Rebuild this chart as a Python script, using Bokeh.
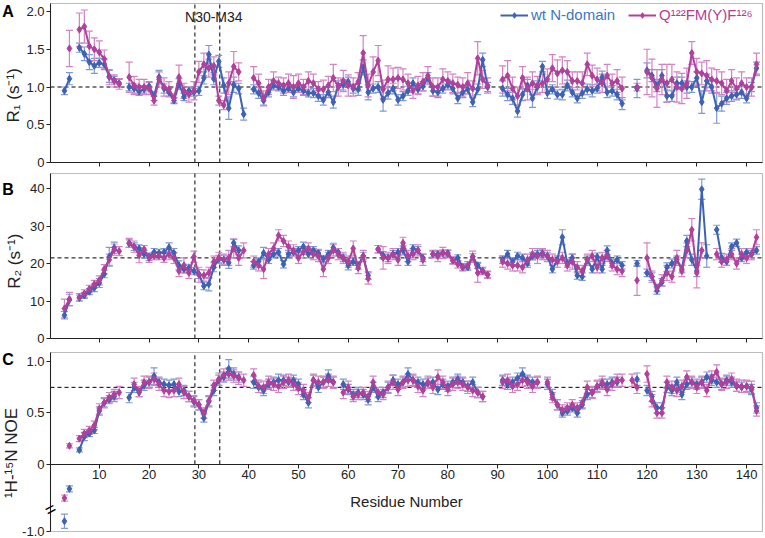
import math
from bokeh.plotting import figure
from bokeh.models import (ColumnDataSource, Range1d, Whisker, TeeHead, Label, BoxAnnotation,
                          Legend, LegendItem, FixedTicker, CustomJSTickFormatter)
from bokeh.layouts import column
from bokeh.embed import file_html
from bokeh.resources import INLINE

# ---------------- data (residues 3..142) ----------------
RESIDUES = list(range(3, 143))
X_TICKS = [10, 20, 30, 40, 50, 60, 70, 80, 90, 100, 110, 120, 130, 140]
REGION = [29.2, 34.2]          # N30-M34 boundaries
R1_MEAN, R2_MEAN, NOE_MEAN = 1.0, 21.5, 0.75

R1_wt = [
    0.95, 1.11, None, 1.52, 1.44, 1.33, 1.28, 1.32, 1.30, 1.14,
    1.09, 1.05, None, 1.00, 0.98, 0.94, 0.97, 1.01, 0.88, 1.13,
    0.98, 0.93, 0.82, 1.04, 0.87, 0.95, 0.93, 0.95, 1.12, 1.43,
    1.11, 1.34, 1.02, 0.72, 1.03, 0.98, 0.64, None, 0.97, 0.92,
    0.82, 0.93, 1.02, 1.00, 0.95, 0.98, 0.93, 0.98, 0.95, 0.92,
    0.92, 0.88, 0.83, 0.93, 0.80, 1.02, 1.03, 1.07, 0.98, 0.97,
    1.26, 0.93, 0.98, 1.00, 0.83, 0.92, 0.98, 0.83, 0.88, 0.95,
    1.05, 0.97, 1.01, 1.12, 0.95, 0.93, 0.98, 1.03, 0.98, 0.85,
    0.93, 0.97, 0.80, 0.97, 1.36, 1.00, None, None, 0.98, 0.90,
    0.85, 0.68, 0.90, 1.02, 0.85, 1.00, 1.27, 0.92, 0.97, 0.90,
    0.90, 1.02, 0.93, 0.85, 0.92, 0.97, 0.95, 0.98, 1.13, 0.93,
    0.95, 0.90, 0.78, None, None, 0.98, None, 1.22, 1.15, 1.02,
    1.15, 0.88, 0.88, 1.05, 1.05, 1.00, 1.00, 1.12, 0.80, 1.08,
    1.00, 0.72, 0.78, 0.85, 0.88, 0.90, 0.93, 0.85, 1.00, 1.25,
]
R1_wt_err = [
    0.05, 0.08, None, 0.06, 0.09, 0.10, 0.10, 0.06, 0.07, 0.08,
    0.05, 0.05, None, 0.05, 0.06, 0.05, 0.05, 0.06, 0.06, 0.09,
    0.06, 0.05, 0.04, 0.07, 0.05, 0.05, 0.05, 0.06, 0.08, 0.12,
    0.08, 0.08, 0.10, 0.15, 0.10, 0.07, 0.08, None, 0.06, 0.07,
    0.06, 0.06, 0.06, 0.05, 0.06, 0.05, 0.06, 0.05, 0.06, 0.05,
    0.06, 0.07, 0.07, 0.07, 0.08, 0.06, 0.07, 0.06, 0.06, 0.08,
    0.10, 0.10, 0.06, 0.07, 0.15, 0.08, 0.07, 0.07, 0.06, 0.06,
    0.07, 0.06, 0.06, 0.07, 0.07, 0.07, 0.06, 0.06, 0.07, 0.07,
    0.07, 0.06, 0.06, 0.07, 0.09, 0.06, None, None, 0.10, 0.08,
    0.08, 0.08, 0.08, 0.08, 0.12, 0.08, 0.07, 0.07, 0.06, 0.06,
    0.07, 0.07, 0.06, 0.06, 0.07, 0.07, 0.08, 0.06, 0.08, 0.07,
    0.07, 0.07, 0.08, None, None, 0.12, None, 0.10, 0.08, 0.08,
    0.08, 0.08, 0.07, 0.08, 0.08, 0.08, 0.07, 0.08, 0.15, 0.09,
    0.08, 0.20, 0.10, 0.08, 0.07, 0.07, 0.08, 0.06, 0.06, 0.08,
]
R1_mut = [
    None, 1.51, None, 1.76, 1.80, 1.54, 1.50, 1.46, 1.37, 1.13,
    1.08, 1.04, None, 1.13, 1.02, 1.00, 1.00, 0.98, 0.82, 1.10,
    1.00, 0.97, 0.85, 1.13, 0.95, 0.90, 0.95, 1.20, 1.30, 1.25,
    1.28, 0.82, 0.76, 1.05, 1.27, 1.20, None, None, 1.12, 1.05,
    0.85, 1.00, 1.08, 1.05, 1.02, 1.05, 1.00, 1.05, 1.00, 1.08,
    1.05, 0.97, 0.97, 1.02, 1.12, 1.00, 1.08, 1.02, 1.00, 1.07,
    1.45, 1.02, 1.20, 1.35, 0.97, 1.10, 1.10, 1.12, 1.10, 1.05,
    0.95, 1.02, 1.07, 1.15, 1.00, 1.00, 1.10, 1.08, 1.05, 1.03,
    1.00, 1.05, 0.98, 1.38, 1.10, 1.02, None, None, 1.10, 1.15,
    0.98, 0.88, 1.12, 0.98, 1.05, 1.02, 1.05, 1.10, 1.25, 1.18,
    1.22, 1.20, 1.08, 1.08, 1.05, 1.30, 1.15, 1.10, 1.05, 1.15,
    1.05, 1.08, 0.98, None, None, 1.00, None, 1.20, 1.12, 0.98,
    1.10, 1.05, 1.10, 1.00, 0.98, 1.05, 1.45, 1.20, 1.18, 1.15,
    1.10, 1.08, 1.05, 0.95, 1.08, 0.98, 1.05, 1.00, 1.00, 1.30,
]
R1_mut_err = [
    None, 0.24, None, 0.22, 0.22, 0.20, 0.15, 0.15, 0.12, 0.10,
    0.08, 0.07, None, 0.20, 0.12, 0.10, 0.10, 0.08, 0.06, 0.10,
    0.12, 0.10, 0.06, 0.16, 0.10, 0.10, 0.12, 0.14, 0.15, 0.12,
    0.12, 0.06, 0.06, 0.15, 0.20, 0.12, None, None, 0.15, 0.12,
    0.10, 0.10, 0.12, 0.08, 0.10, 0.12, 0.15, 0.12, 0.10, 0.12,
    0.12, 0.10, 0.12, 0.12, 0.18, 0.12, 0.14, 0.14, 0.12, 0.12,
    0.23, 0.15, 0.20, 0.20, 0.12, 0.18, 0.15, 0.14, 0.14, 0.12,
    0.10, 0.12, 0.12, 0.12, 0.12, 0.12, 0.14, 0.12, 0.12, 0.10,
    0.12, 0.14, 0.10, 0.22, 0.12, 0.10, None, None, 0.18, 0.20,
    0.15, 0.12, 0.15, 0.15, 0.15, 0.12, 0.12, 0.14, 0.18, 0.18,
    0.18, 0.15, 0.12, 0.12, 0.15, 0.15, 0.14, 0.15, 0.12, 0.15,
    0.12, 0.15, 0.15, None, None, 0.05, None, 0.30, 0.25, 0.25,
    0.20, 0.25, 0.20, 0.20, 0.20, 0.20, 0.15, 0.18, 0.15, 0.20,
    0.15, 0.15, 0.15, 0.15, 0.15, 0.14, 0.15, 0.12, 0.12, 0.15,
]
R2_wt = [
    6.2, 10.3, None, 10.8, 11.5, 12.5, 13.5, 14.8, 17.2, 21.8,
    24.2, None, None, 25.3, 24.5, 24.0, 22.5, 21.8, 23.0, 22.8,
    23.0, 24.3, 22.8, 19.5, 18.5, 18.8, 18.0, 17.2, 14.0, 14.5,
    19.0, 21.2, 21.0, 20.2, 25.5, 23.5, None, None, 19.5, 20.5,
    22.8, 21.0, 22.5, 23.0, 19.8, 22.5, 23.0, 23.5, 24.5, 22.5,
    23.5, 22.8, 21.2, 22.5, 24.2, 23.0, 21.5, 19.5, 20.5, 19.5,
    22.0, 16.8, None, 23.8, 22.2, 21.5, 22.5, 23.0, 23.5, 20.5,
    24.0, 23.5, 21.5, None, 22.5, 22.5, 22.8, 22.8, 20.8, 21.5,
    19.0, 19.0, 21.8, 19.5, 18.0, 17.0, None, None, 21.0, 22.5,
    20.5, 22.0, 21.5, 20.0, 22.0, 22.5, 22.8, 22.0, 18.5, 21.0,
    27.0, 20.0, 21.5, 16.8, 16.5, 21.0, 18.5, 21.8, 18.5, 23.5,
    20.0, 21.0, 19.5, None, None, 20.0, None, 17.5, 16.5, 12.8,
    15.0, 19.0, 20.0, 21.0, 18.5, 26.0, 21.0, 18.0, 39.8, 22.0,
    None, 29.0, 21.5, 20.5, 24.5, 25.5, 21.5, 23.0, 22.5, 23.5,
]
R2_wt_err = [
    1.0, 1.5, None, 0.8, 0.8, 0.8, 1.0, 1.2, 1.0, 2.5,
    1.5, None, None, 1.0, 1.0, 1.0, 1.0, 1.0, 1.0, 1.0,
    1.0, 1.2, 1.2, 1.2, 1.0, 1.0, 1.0, 1.2, 1.0, 1.8,
    1.2, 1.0, 1.2, 1.5, 1.0, 1.2, None, None, 1.0, 1.0,
    1.5, 1.0, 1.0, 1.0, 1.0, 1.0, 1.0, 1.0, 1.2, 1.0,
    1.0, 1.0, 1.0, 1.0, 1.2, 1.0, 1.0, 1.2, 1.0, 1.0,
    1.0, 1.0, None, 1.0, 1.0, 1.0, 1.0, 1.0, 1.2, 1.0,
    1.0, 1.0, 1.0, None, 0.8, 0.8, 0.8, 0.8, 0.8, 0.8,
    0.8, 0.8, 0.8, 0.8, 0.8, 0.8, None, None, 1.0, 1.0,
    1.0, 1.0, 1.0, 1.0, 1.0, 1.0, 1.0, 1.0, 1.0, 1.0,
    2.0, 1.0, 1.0, 1.0, 1.0, 1.0, 1.0, 1.0, 1.0, 1.2,
    1.0, 1.0, 1.0, None, None, 0.8, None, 1.0, 1.0, 1.0,
    1.0, 1.2, 1.2, 1.0, 1.0, 1.5, 1.5, 1.5, 2.7, 3.0,
    None, 1.2, 1.2, 1.0, 1.0, 1.0, 1.0, 1.0, 1.0, 1.0,
]
R2_mut = [
    8.0, 10.5, None, 11.0, 12.0, 13.2, 14.5, 15.5, 18.5, 21.0,
    23.7, 23.3, None, 25.5, 24.5, 22.2, 23.8, 21.5, 22.0, 22.0,
    21.5, 22.5, 21.5, 18.0, 19.5, 17.5, 21.8, 17.0, 16.8, 17.5,
    20.5, 21.5, 21.0, 21.5, 24.0, 21.5, 23.5, None, 20.5, 19.5,
    18.5, 22.5, 24.0, 27.5, 26.0, 24.5, 23.5, 21.5, 23.0, 24.0,
    22.5, 22.0, 18.5, 21.5, 23.5, 22.5, 21.5, 20.5, 24.0, 18.8,
    22.0, 16.0, None, 23.8, 21.5, 21.5, 22.5, 21.0, 25.5, 22.0,
    22.5, 23.5, 21.0, None, 22.5, 22.0, 22.8, 22.5, 20.8, 19.8,
    19.0, 19.5, 21.8, 17.5, 18.0, 17.0, None, None, 20.5, 20.0,
    19.5, 19.5, 19.0, 21.0, 22.5, 22.0, 22.5, 22.0, 21.0, 20.5,
    21.5, 19.5, 20.5, 19.0, 18.0, 21.0, 22.0, 19.0, 21.5, 22.0,
    19.5, 18.5, 18.0, None, None, 15.5, None, 21.5, 16.5, 13.5,
    15.5, 17.5, 16.5, 21.5, 18.0, 23.5, 29.0, 17.5, 23.5, None,
    None, 22.5, 20.5, 21.0, 22.5, 20.0, 22.5, 21.5, 22.5, 27.0,
]
R2_mut_err = [
    2.5, 1.8, None, 1.0, 1.0, 1.0, 1.0, 1.2, 1.2, 1.5,
    1.5, 1.2, None, 1.2, 1.5, 2.0, 1.0, 1.2, 1.0, 1.0,
    1.2, 1.5, 1.5, 1.5, 2.0, 1.5, 1.5, 2.0, 1.5, 1.5,
    1.5, 1.5, 1.5, 2.0, 2.5, 2.0, 2.0, None, 1.5, 1.5,
    2.5, 1.5, 1.5, 1.5, 1.5, 1.5, 1.5, 1.5, 1.5, 1.5,
    1.5, 1.5, 2.0, 1.5, 1.5, 1.5, 1.5, 1.5, 2.0, 1.5,
    1.5, 1.5, None, 1.0, 3.0, 1.5, 1.5, 1.5, 1.5, 1.5,
    1.5, 1.5, 1.5, None, 1.0, 1.5, 1.5, 1.0, 1.0, 1.0,
    1.0, 1.0, 1.5, 2.5, 1.0, 1.0, None, None, 1.5, 1.5,
    1.5, 1.5, 1.5, 1.5, 1.5, 2.0, 1.5, 1.5, 1.5, 1.5,
    1.5, 1.5, 2.0, 1.5, 1.5, 1.5, 1.5, 1.5, 1.5, 1.5,
    1.5, 1.5, 1.5, None, None, 4.0, None, 4.0, 1.5, 1.0,
    1.5, 2.0, 1.5, 2.0, 1.5, 2.0, 3.0, 4.0, 2.0, None,
    None, 1.5, 1.5, 1.5, 1.5, 1.5, 1.5, 1.5, 1.5, 2.0,
]
NOE_wt = [
    -0.90, -0.24, None, 0.14, 0.27, 0.30, 0.33, 0.52, 0.60, 0.63,
    0.66, None, None, 0.65, 0.75, 0.70, 0.77, 0.80, 0.86, 0.80,
    0.78, 0.77, 0.78, 0.71, 0.72, 0.66, 0.61, 0.58, 0.45, 0.61,
    0.72, 0.82, 0.85, 0.93, 0.88, 0.85, None, None, 0.80, 0.75,
    0.72, 0.78, 0.80, 0.82, 0.82, 0.80, 0.82, 0.78, 0.68, 0.60,
    0.82, 0.75, 0.80, 0.86, 0.80, None, 0.78, 0.73, 0.68, 0.70,
    0.68, 0.63, 0.75, 0.66, 0.70, 0.75, 0.82, 0.78, 0.80, 0.88,
    0.82, 0.80, 0.78, 0.79, 0.80, 0.73, 0.78, 0.76, 0.80, 0.83,
    0.80, 0.76, 0.80, 0.70, 0.66, None, None, None, 0.82, 0.78,
    0.80, 0.84, 0.88, 0.82, 0.80, 0.80, None, 0.78, 0.68, 0.58,
    0.50, 0.52, 0.55, 0.50, 0.58, 0.68, 0.70, 0.76, 0.78, 0.78,
    0.80, 0.80, None, None, None, 0.83, None, 0.72, 0.66, 0.55,
    0.55, 0.75, 0.72, 0.80, 0.68, 0.78, 0.80, 0.78, 0.80, 0.85,
    0.82, 0.80, 0.78, 0.82, 0.80, 0.76, 0.75, 0.76, 0.73, 0.55,
]
NOE_wt_err = [
    0.07, 0.03, None, 0.02, 0.04, 0.03, 0.03, 0.04, 0.04, 0.04,
    0.05, None, None, 0.05, 0.05, 0.04, 0.05, 0.05, 0.08, 0.05,
    0.05, 0.05, 0.05, 0.05, 0.05, 0.05, 0.05, 0.05, 0.04, 0.05,
    0.05, 0.05, 0.05, 0.09, 0.06, 0.05, None, None, 0.06, 0.05,
    0.05, 0.05, 0.05, 0.06, 0.05, 0.05, 0.05, 0.05, 0.05, 0.05,
    0.05, 0.05, 0.05, 0.06, 0.05, None, 0.05, 0.05, 0.05, 0.05,
    0.05, 0.05, 0.05, 0.05, 0.05, 0.05, 0.05, 0.05, 0.05, 0.06,
    0.05, 0.05, 0.05, 0.05, 0.05, 0.05, 0.05, 0.05, 0.05, 0.05,
    0.05, 0.05, 0.05, 0.05, 0.05, None, None, None, 0.05, 0.05,
    0.05, 0.05, 0.06, 0.05, 0.05, 0.05, None, 0.05, 0.05, 0.05,
    0.04, 0.04, 0.04, 0.04, 0.04, 0.05, 0.05, 0.05, 0.05, 0.05,
    0.05, 0.05, None, None, None, 0.06, None, 0.05, 0.05, 0.05,
    0.05, 0.05, 0.05, 0.05, 0.05, 0.05, 0.05, 0.05, 0.05, 0.05,
    0.05, 0.05, 0.05, 0.05, 0.05, 0.05, 0.05, 0.05, 0.05, 0.05,
]
NOE_mut = [
    -0.33, 0.18, None, 0.25, 0.30, 0.33, 0.38, 0.54, 0.60, 0.65,
    0.68, 0.70, None, None, 0.78, 0.71, 0.80, 0.80, 0.83, 0.78,
    0.72, 0.71, 0.72, 0.78, 0.70, 0.66, 0.62, 0.58, 0.50, 0.62,
    0.77, 0.83, 0.87, 0.88, 0.86, 0.84, 0.82, None, 0.87, 0.76,
    0.75, 0.80, 0.78, 0.76, 0.80, 0.82, 0.78, 0.74, 0.72, 0.65,
    0.82, 0.80, 0.80, 0.82, 0.80, None, 0.70, 0.75, 0.66, 0.68,
    0.70, 0.66, 0.80, 0.70, 0.68, 0.75, 0.80, 0.73, 0.80, 0.82,
    0.82, 0.76, 0.72, 0.80, 0.75, 0.85, 0.80, 0.73, 0.78, 0.80,
    0.78, 0.75, 0.72, 0.70, 0.66, None, None, None, 0.80, 0.82,
    0.76, 0.78, 0.82, 0.80, 0.76, 0.80, None, 0.80, 0.65, 0.58,
    0.53, 0.55, 0.58, 0.55, 0.60, 0.75, 0.70, 0.76, 0.80, 0.73,
    0.78, 0.82, 0.82, None, 0.82, 0.75, None, 0.88, 0.62, 0.50,
    0.50, 0.80, 0.75, 0.72, 0.76, 0.85, 0.80, 0.75, 0.80, 0.72,
    0.85, 0.90, 0.78, 0.80, 0.83, 0.77, 0.76, 0.76, 0.75, 0.52,
]
NOE_mut_err = [
    0.03, 0.02, None, 0.03, 0.04, 0.04, 0.04, 0.05, 0.05, 0.05,
    0.05, 0.06, None, None, 0.06, 0.05, 0.06, 0.06, 0.06, 0.06,
    0.06, 0.06, 0.06, 0.06, 0.06, 0.05, 0.05, 0.05, 0.05, 0.05,
    0.05, 0.06, 0.06, 0.06, 0.06, 0.06, 0.06, None, 0.06, 0.06,
    0.06, 0.06, 0.06, 0.06, 0.06, 0.06, 0.06, 0.06, 0.06, 0.05,
    0.06, 0.06, 0.06, 0.06, 0.06, None, 0.06, 0.06, 0.05, 0.05,
    0.05, 0.05, 0.06, 0.05, 0.05, 0.06, 0.07, 0.06, 0.06, 0.06,
    0.06, 0.06, 0.06, 0.06, 0.06, 0.07, 0.06, 0.06, 0.06, 0.06,
    0.06, 0.06, 0.06, 0.05, 0.05, None, None, None, 0.06, 0.06,
    0.06, 0.06, 0.06, 0.06, 0.06, 0.06, None, 0.05, 0.05, 0.05,
    0.05, 0.05, 0.05, 0.05, 0.05, 0.06, 0.06, 0.06, 0.06, 0.06,
    0.06, 0.06, 0.06, None, 0.06, 0.06, None, 0.08, 0.06, 0.05,
    0.05, 0.06, 0.06, 0.06, 0.06, 0.06, 0.06, 0.06, 0.06, 0.06,
    0.06, 0.07, 0.06, 0.06, 0.06, 0.06, 0.06, 0.06, 0.06, 0.05,
]

for _name, _arr in [("R1_wt", R1_wt), ("R1_wt_err", R1_wt_err), ("R1_mut", R1_mut),
                    ("R1_mut_err", R1_mut_err), ("R2_wt", R2_wt), ("R2_wt_err", R2_wt_err),
                    ("R2_mut", R2_mut), ("R2_mut_err", R2_mut_err), ("NOE_wt", NOE_wt),
                    ("NOE_wt_err", NOE_wt_err), ("NOE_mut", NOE_mut), ("NOE_mut_err", NOE_mut_err)]:
    assert len(_arr) == len(RESIDUES), (_name, len(_arr))

# ---------------- style / geometry ----------------
FONT = "Liberation Sans"
BLUE, BLUE_ERR, BLUE_TXT = "#3e62b3", "#7f9ad3", "#3b78c3"
MAG, MAG_ERR, MAG_TXT = "#b0409b", "#d283c3", "#b43c98"
AX_COL = "#222222"

X_RANGE = (0.2, 143.2)           # residue span of the boxed plot area
DATA_W, PAD_L, PAD_R = 712, 50, 3
K_X = (X_RANGE[1] - X_RANGE[0]) / DATA_W
X_EXT = (X_RANGE[0] - PAD_L * K_X, X_RANGE[1] + PAD_R * K_X)


def sx(px):
    """canvas pixel column -> data x"""
    return X_RANGE[0] + (px - PAD_L) * K_X


A_RANGE = (0.0, 2.106)
B_RANGE = (0.0, 44.0)
C_RANGE = (-0.656, 1.09)
C_LOW_TICK = -1.0                  # value shown at the bottom of the broken axis
C_SHIFT = C_RANGE[0] - C_LOW_TICK  # shift applied to values below the break
C_BREAK_AT = -0.5


def make_fig(yr, data_h, pad_top, pad_bot, x_axis_at):
    k = (yr[1] - yr[0]) / data_h
    p = figure(frame_width=DATA_W + PAD_L + PAD_R, frame_height=data_h + pad_top + pad_bot,
               x_range=Range1d(*X_EXT), y_range=Range1d(yr[0] - pad_bot * k, yr[1] + pad_top * k),
               output_backend="svg", toolbar_location=None, min_border=0)
    p.xgrid.visible = False
    p.ygrid.visible = False
    p.outline_line_color = None
    p.background_fill_color = "white"
    p.border_fill_color = "white"
    p.add_layout(BoxAnnotation(left=X_RANGE[0], right=X_RANGE[1], bottom=yr[0], top=yr[1],
                               fill_color=None, fill_alpha=0, line_color=AX_COL,
                               line_width=1.2, level="overlay"))
    for ax in (p.xaxis[0], p.yaxis[0]):
        ax.axis_line_color = AX_COL
        ax.major_tick_line_color = AX_COL
        ax.minor_tick_line_color = None
        ax.major_tick_in = 0
        ax.major_tick_out = 4
        ax.major_label_text_font = FONT
        ax.major_label_text_font_size = "13px"
        ax.major_label_text_color = AX_COL
        ax.axis_label_text_font = FONT
        ax.axis_label_text_font_style = "normal"
        ax.axis_label_text_color = AX_COL
    p.xaxis.ticker = FixedTicker(ticks=X_TICKS)
    p.xaxis.fixed_location = x_axis_at
    p.xaxis.bounds = X_RANGE
    p.yaxis.fixed_location = X_RANGE[0]
    p.yaxis.bounds = yr
    p.yaxis.major_label_standoff = 2
    return p


def hide_x_labels(p):
    p.xaxis.formatter = CustomJSTickFormatter(code="return '';")
    p.xaxis.major_label_standoff = 0


def add_series(p, vals, errs, color, ecolor, broken=False):
    xs, ys, ups, los, lx, ly = [], [], [], [], [], []
    for r, v, e in zip(RESIDUES, vals, errs):
        if v is None:
            lx.append(r)
            ly.append(float("nan"))
            continue
        s = C_SHIFT if (broken and v < C_BREAK_AT) else 0.0
        xs.append(r)
        ys.append(v + s)
        ups.append(v + e + s)
        los.append(v - e + s)
        lx.append(r)
        ly.append(float("nan") if (broken and v < 0) else v + s)
    src = ColumnDataSource(dict(x=xs, y=ys, up=ups, lo=los))
    p.add_layout(Whisker(source=src, base="x", upper="up", lower="lo",
                         line_color=ecolor, line_width=1.2, level="underlay",
                         upper_head=TeeHead(size=7, line_color=ecolor, line_width=1.2),
                         lower_head=TeeHead(size=7, line_color=ecolor, line_width=1.2)))
    ln = p.line(lx, ly, line_color=color, line_width=2)
    sc = p.scatter("x", "y", source=src, marker="diamond", size=7,
                   fill_color=color, line_color=color)
    return ln, sc


def dashed(p, x0, x1, y0, y1):
    p.segment(x0=x0, x1=x1, y0=y0, y1=y1, line_color="black", line_dash="4 3",
              line_width=1, level="underlay")


def ref_lines(p, yr, mean, region_from):
    dashed(p, [X_RANGE[0]], [X_RANGE[1]], [mean], [mean])
    dashed(p, REGION, REGION, [region_from] * len(REGION), [yr[1]] * len(REGION))


def text(p, x, y, t, size, bold=False, angle=0.0, color=AX_COL):
    p.add_layout(Label(x=x, y=y, text=t, text_font=FONT, text_font_size=size,
                       text_font_style="bold" if bold else "normal", angle=angle,
                       text_align="center", text_baseline="middle", text_color=color))


one_dec = CustomJSTickFormatter(code="return tick == 0 ? '0' : tick.toFixed(1);")

# ---------------- panel A ----------------
pa = make_fig(A_RANGE, 159, 3, 8, A_RANGE[0])
hide_x_labels(pa)
pa.yaxis.ticker = FixedTicker(ticks=[0, 0.5, 1.0, 1.5, 2.0])
pa.yaxis.formatter = one_dec
ref_lines(pa, A_RANGE, R1_MEAN, A_RANGE[0])
a_wt = add_series(pa, R1_wt, R1_wt_err, BLUE, BLUE_ERR)
a_mut = add_series(pa, R1_mut, R1_mut_err, MAG, MAG_ERR)
text(pa, 33.0, 1.93, "N30-M34", "14px")
text(pa, sx(7.5), 2.0, "A", "16px", bold=True, color="black")
text(pa, sx(13), 0.89, "R\u2081 (s\u207b\u00b9)", "17px", angle=math.pi / 2)
for item, loc, col in [(LegendItem(label="wt N-domain", renderers=list(a_wt)), (500, 147), BLUE_TXT),
                       (LegendItem(label="Q\u00b9\u00b2\u00b2FM(Y)F\u00b9\u00b2\u2076",
                                   renderers=list(a_mut)), (628, 147), MAG_TXT)]:
    lg = Legend(items=[item], location=loc, orientation="horizontal",
                background_fill_alpha=0, border_line_color=None, padding=0, margin=0,
                spacing=0, glyph_width=28, glyph_height=14, label_height=14,
                label_standoff=3, label_text_font=FONT, label_text_font_size="15px",
                label_text_color=col)
    pa.add_layout(lg)

# ---------------- panel B ----------------
pb = make_fig(B_RANGE, 165, 3, 8, B_RANGE[0])
hide_x_labels(pb)
pb.yaxis.ticker = FixedTicker(ticks=[0, 10, 20, 30, 40])
ref_lines(pb, B_RANGE, R2_MEAN, B_RANGE[0])
add_series(pb, R2_wt, R2_wt_err, BLUE, BLUE_ERR)
add_series(pb, R2_mut, R2_mut_err, MAG, MAG_ERR)
text(pb, sx(7.5), 39.7, "B", "16px", bold=True, color="black")
text(pb, sx(13.5), 20.6, "R\u2082 (s\u207b\u00b9)", "17px", angle=math.pi / 2)

# ---------------- panel C ----------------
pc = make_fig(C_RANGE, 179, 6, 7, 0)
pc.xaxis.major_label_standoff = 2
pc.xaxis.axis_label = "Residue Number"
pc.xaxis.axis_label_text_font_size = "15px"
pc.xaxis.axis_label_standoff = 10
pc.yaxis.ticker = FixedTicker(ticks=[C_RANGE[0], 0, 0.5, 1.0])
pc.yaxis.formatter = CustomJSTickFormatter(
    args=dict(low=C_RANGE[0], lab=C_LOW_TICK),
    code="return tick <= low + 1e-6 ? lab.toFixed(1) : (tick == 0 ? '0' : tick.toFixed(1));")
ref_lines(pc, C_RANGE, NOE_MEAN, 0)
add_series(pc, NOE_wt, NOE_wt_err, BLUE, BLUE_ERR, broken=True)
add_series(pc, NOE_mut, NOE_mut_err, MAG, MAG_ERR, broken=True)
text(pc, X_RANGE[0], -0.44, "=", "18px", angle=0.5, color="black")
text(pc, sx(7.5), 1.02, "C", "16px", bold=True, color="black")
text(pc, sx(10.5), 0.11, "\u00b9H-\u00b9\u2075N NOE", "17px", angle=math.pi / 2)

layout = column(pa, pb, pc, spacing=0)
open("out.html", "w").write(file_html(layout, INLINE))
